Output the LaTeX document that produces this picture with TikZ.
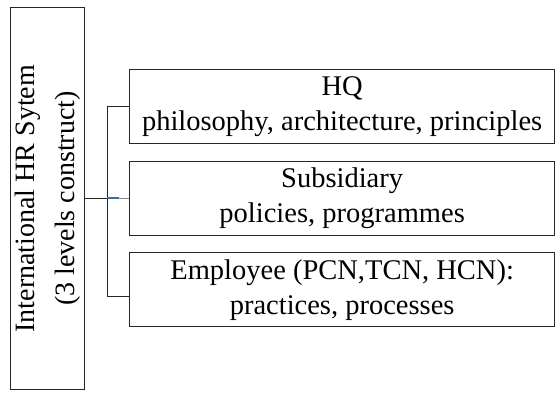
\documentclass[tikz,border=0pt]{standalone}
\usepackage{fontspec}
\setmainfont{Liberation Serif}
\definecolor{linkblue}{RGB}{62,108,160}
\begin{document}
\begin{tikzpicture}[x=1pt,y=-1pt,
  box/.style={draw=black!85,line width=1.3pt,fill=white,inner sep=0pt,align=center},
  lvl/.style={box,minimum width=425pt,minimum height=74pt,anchor=north west,font=\fontsize{28.5}{35}\selectfont},
  conn/.style={draw=black!85,line width=1pt}]
\useasboundingbox (0,0) rectangle (556,392);
\node[box,minimum width=74pt,minimum height=382pt,anchor=north west] (sys) at (10,7) {};
\node[rotate=90,align=center,font=\fontsize{28}{40}\selectfont] (syst) at (sys.center) {International HR Sytem\\(3 levels construct)};
\node[lvl] (hq) at (129,69) {HQ\\philosophy, architecture, principles};
\node[lvl] (sub) at (129,161) {Subsidiary\\policies, programmes};
\node[lvl] (emp) at (129,252) {Employee (PCN,TCN, HCN):\\practices, processes};
\coordinate (b1) at (107,106);
\coordinate (b3) at (107,296);
\coordinate (bm) at (107,198);
\draw[conn] (hq.west |- b1) -- (b1) -- (b3) -- (emp.west |- b3);
\draw[conn] (sys.east |- bm) -- (bm);
\draw[draw=black!45,line width=1pt] (bm) -- (sub.west |- bm);
\draw[draw=linkblue,line width=1.6pt] (bm) -- ++(12,0);
\end{tikzpicture}
\end{document}
